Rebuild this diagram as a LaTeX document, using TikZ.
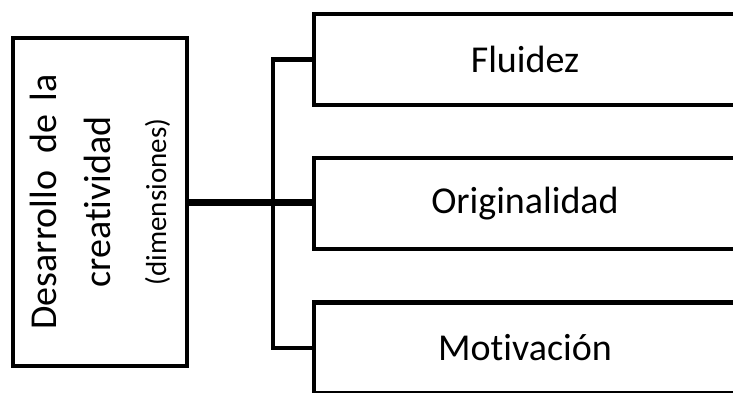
\documentclass[tikz,border=0pt]{standalone}
\usepackage{fontspec}
\setmainfont{Carlito}[Ligatures=NoCommon]
\usepackage{graphicx}
\tikzset{
  dimbox/.style={draw, line width=4.5pt, minimum width=422pt, minimum height=91pt,
    font=\fontsize{38}{46}\selectfont},
  bigbox/.style={draw, line width=4.5pt, minimum width=174pt, minimum height=328pt, inner sep=0pt},
  fork/.style={line width=4.5pt},
  trunk/.style={line width=7pt}
}
\begin{document}
\begin{tikzpicture}[x=1pt,y=1pt]
  \clip (0,0) rectangle (733,392);
  % left box
  \node[bigbox] (dev) at (100,190) {\rotatebox{90}{\fontsize{38}{55}\selectfont
    \begin{tabular}{@{}c@{}}
      Desarrollo\hspace{0.45em}de\hspace{0.35em}la\\
      creatividad\\
      {\fontsize{29}{34}\selectfont (dimensiones)}
    \end{tabular}}};
  % dimensions
  \node[dimbox] (flu) at (525,332.5) {Fluidez};
  \node[dimbox] (ori) at (525,188.5) {Originalidad};
  \node[dimbox] (mot) at (525,44) {Motivación};
  % connectors
  \draw[fork] (flu.west) -- ++(-39,0) |- (mot.west);
  \draw[trunk, shorten >=-4pt] (dev.east) -- (dev.east -| ori.west);
\end{tikzpicture}
\end{document}
